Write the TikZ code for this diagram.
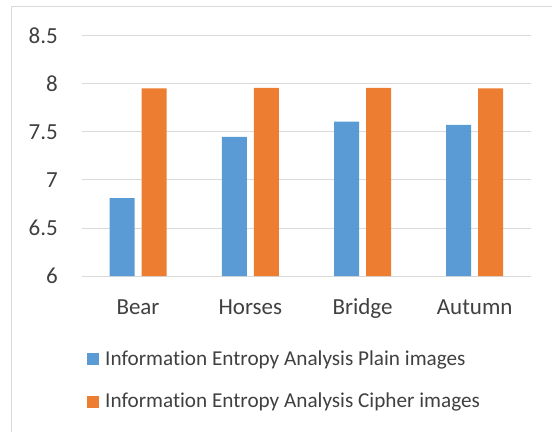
\documentclass[tikz,border=0pt]{standalone}
\usepackage{fontspec}
\setmainfont[Ligatures=NoCommon]{Carlito}
\definecolor{plainblue}{HTML}{5B9BD5}
\definecolor{cipherorange}{HTML}{ED7D31}
\definecolor{gridgray}{HTML}{D9D9D9}
\definecolor{textgray}{HTML}{404040}
\tikzset{
  ticklabel/.style={anchor=east, inner sep=0pt, text=textgray, font=\fontsize{23}{27}\selectfont},
  catlabel/.style={anchor=base, inner sep=0pt, text=textgray, font=\fontsize{23}{27}\selectfont},
  legendlabel/.style={anchor=base west, inner sep=0pt, text=textgray, font=\fontsize{21.2}{25}\selectfont}
}
\begin{document}
\begin{tikzpicture}[x=1pt, y=1pt, line join=round]
			\useasboundingbox (0,0) rectangle (552,432);
			\draw[gridgray, line width=1.5] (11.5,0) -- (11.5,425.3) -- (552,425.3);
			\begin{scope}[y=96pt, yshift=-420pt]
				\foreach \v in {6,6.5,...,8.5}
					\draw[gridgray, line width=1] (82,\v) -- (530.6,\v);
				% plain images
				\fill[plainblue] (109.5,6) rectangle (134.5,6.81) (221.8,6) rectangle (246.8,7.448)
				(334,6) rectangle (359,7.607) (446.2,6) rectangle (471.2,7.573);
				% cipher images
				\fill[cipherorange] (141.5,6) rectangle (166.5,7.955) (253.9,6) rectangle (278.9,7.96)
				(366,6) rectangle (391,7.96) (478.2,6) rectangle (503.2,7.955);
				\path (58,6) node[ticklabel] (t60) {6}
				(58,6.5) node[ticklabel] (t65) {6.5}
				(58,7) node[ticklabel] (t70) {7}
				(58,7.5) node[ticklabel] (t75) {7.5}
				(58,8) node[ticklabel] (t80) {8}
				(58,8.5) node[ticklabel] (t85) {8.5};
			\end{scope}
			\path (138,118) node[catlabel] (bear) {Bear}
			(250.4,118) node[catlabel] (horses) {Horses}
			(362.5,118) node[catlabel] (bridge) {Bridge}
			(474.7,118) node[catlabel] (autumn) {Autumn};
			\fill[plainblue] (87,67) rectangle (99,79.3);
			\fill[cipherorange] (87,24.3) rectangle (99,36.3);
			\path (105,67) node[legendlabel] (plainleg) {Information Entropy Analysis Plain images}
			(105,24.3) node[legendlabel] (cipherleg) {Information Entropy Analysis Cipher images};
		\end{tikzpicture}
\end{document}
